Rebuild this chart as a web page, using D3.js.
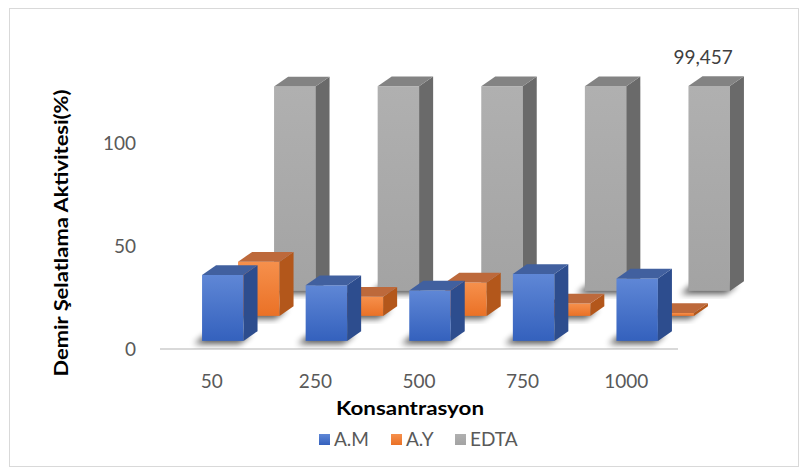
<!DOCTYPE html>
<html>
<head>
<meta charset="utf-8">
<script src="https://cdn.jsdelivr.net/npm/d3@7"></script>
<style>
  body { margin: 0; background: #fff; }
  svg { display: block; }
</style>
</head>
<body>
<script>
//chart data
var categories = ["50", "250", "500", "750", "1000"];
var seriesNames = ["A.M", "A.Y", "EDTA"];
var amValues = [32, 27, 24.5, 32.5, 30.3];
var ayValues = [26.3, 9.3, 16.2, 6, 1.4];
var edtaValues = [99.2, 99.3, 99.3, 99.35, 99.457];
var yTicks = [0, 50, 100];

var w = 807, h = 475;

//oblique 3d: one depth unit moves this much on screen
var DX = 36, DY = -25;

var svg = d3.select("body").append("svg")
    .attr("width", w)
    .attr("height", h);

//outer frame
svg.append("rect")
    .attr("x", 9.5).attr("y", 8.5)
    .attr("width", 789).attr("height", 458)
    .style("fill", "#fff")
    .style("stroke", "#d9d9d9");

var x = d3.scaleBand()
    .domain(categories)
    .range([160, 678])
    .paddingInner(0.6)
    .paddingOuter(0.3);

var y = d3.scaleLinear()
    .domain([0, 100])
    .range([348.5, 142.5]);

//depth position of each series row
var z = d3.scaleBand()
    .domain(seriesNames)
    .range([0, 3])
    .paddingInner(0.61)
    .paddingOuter(0.305);

var colors = {
    "A.M":  { light: "#5f87d6", dark: "#3461bd", side: "#2d4d8e", top: "#41609f" },
    "A.Y":  { light: "#f6904c", dark: "#ea7126", side: "#b3571b", top: "#bd693b" },
    "EDTA": { light: "#b0b0b0", dark: "#a3a3a3", side: "#6a6a6a", top: "#838383" }
};

var defs = svg.append("defs");
seriesNames.forEach(function(s, i){
    var g = defs.append("linearGradient")
        .attr("id", "grad" + i)
        .attr("x1", 0).attr("y1", 0).attr("x2", 0).attr("y2", 1);
    g.append("stop").attr("offset", "0%").attr("stop-color", colors[s].light);
    g.append("stop").attr("offset", "100%").attr("stop-color", colors[s].dark);
});
defs.append("filter").attr("id", "blur")
    .attr("x", "-50%").attr("y", "-50%").attr("width", "200%").attr("height", "200%")
    .append("feGaussianBlur").attr("stdDeviation", 3);

//floor front edge
svg.append("line")
    .attr("x1", x.range()[0]).attr("x2", x.range()[1])
    .attr("y1", y(0) + 0.5).attr("y2", y(0) + 0.5)
    .style("stroke", "#d9d9d9")
    .style("stroke-width", 2);

//table of bars, back row first
var table = [];
[edtaValues, ayValues, amValues].forEach(function(vals, k){
    var s = seriesNames[2 - k];
    vals.forEach(function(v, i){
        table.push({ series: s, si: 2 - k, cat: categories[i], value: v });
    });
});

function pt(px, py){ return px + "," + py; }

var bw = x.bandwidth();
var depth = z.bandwidth();

table.forEach(function(d){
    var z0 = z(d.series);
    var fx = x(d.cat) + z0 * DX;          //front face left
    var fb = y(0) + z0 * DY;              //front face bottom
    var ft = y(d.value) + z0 * DY;        //front face top
    var ox = depth * DX, oy = depth * DY;
    var g = svg.append("g").attr("class", "bar");

    //soft shadow on the floor
    g.append("polygon")
        .attr("points", [pt(fx - 8, fb + 3), pt(fx + bw - 4, fb + 3),
                         pt(fx + bw + ox - 6, fb + oy + 3), pt(fx + ox - 10, fb + oy + 3)].join(" "))
        .style("fill", "#000")
        .style("opacity", 0.65)
        .attr("filter", "url(#blur)");

    //front face
    g.append("rect")
        .attr("x", fx).attr("y", ft)
        .attr("width", bw).attr("height", Math.max(fb - ft, 0.5))
        .style("fill", "url(#grad" + d.si + ")");
    //side face
    g.append("polygon")
        .attr("points", [pt(fx + bw, ft), pt(fx + bw + ox, ft + oy),
                         pt(fx + bw + ox, fb + oy), pt(fx + bw, fb)].join(" "))
        .style("fill", colors[d.series].side);
    //top face
    g.append("polygon")
        .attr("points", [pt(fx, ft), pt(fx + bw, ft),
                         pt(fx + bw + ox, ft + oy), pt(fx + ox, ft + oy)].join(" "))
        .style("fill", colors[d.series].top);
});

//data label on last EDTA bar
var lastZ = z("EDTA");
svg.append("text")
    .attr("x", x(categories[4]) + lastZ * DX + bw / 2 - 6)
    .attr("y", y(edtaValues[4]) + lastZ * DY - 22)
    .attr("text-anchor", "middle")
    .style("font-family", "Lato, 'Open Sans', sans-serif")
    .style("font-size", "19px")
    .style("fill", "#404040")
    .text("99,457");

//value axis labels
svg.selectAll(".ytick")
    .data(yTicks)
    .enter()
    .append("text")
    .attr("class", "ytick")
    .attr("x", 136)
    .attr("y", function(d){ return y(d) + 7; })
    .attr("text-anchor", "end")
    .style("font-family", "Lato, 'Open Sans', sans-serif")
    .style("font-size", "19px")
    .style("fill", "#595959")
    .text(function(d){ return d; });

//category labels
svg.selectAll(".xtick")
    .data(categories)
    .enter()
    .append("text")
    .attr("class", "xtick")
    .attr("x", function(d){ return x(d) + bw / 2; })
    .attr("y", 388)
    .attr("text-anchor", "middle")
    .style("font-family", "Lato, 'Open Sans', sans-serif")
    .style("font-size", "19px")
    .style("fill", "#595959")
    .text(function(d){ return d; });

//axis titles
svg.append("text")
    .attr("x", 410)
    .attr("y", 415)
    .attr("text-anchor", "middle")
    .attr("textLength", 148)
    .attr("lengthAdjust", "spacingAndGlyphs")
    .style("font-family", "Lato, 'Open Sans', sans-serif")
    .style("font-weight", "bold")
    .style("font-size", "19px")
    .style("fill", "#000")
    .text("Konsantrasyon");

svg.append("text")
    .attr("transform", "translate(68,233) rotate(-90)")
    .attr("text-anchor", "middle")
    .attr("textLength", 287)
    .attr("lengthAdjust", "spacingAndGlyphs")
    .style("font-family", "Lato, 'Open Sans', sans-serif")
    .style("font-weight", "bold")
    .style("font-size", "18px")
    .style("fill", "#000")
    .text("Demir Şelatlama Aktivitesi(%)");

//legend
var legendX = [319, 391, 455];
var legend = svg.selectAll(".legend")
    .data(seriesNames)
    .enter()
    .append("g")
    .attr("class", "legend")
    .attr("transform", function(d, i){ return "translate(" + legendX[i] + ",434)"; });

legend.append("rect")
    .attr("width", 11).attr("height", 11)
    .style("fill", function(d, i){ return "url(#grad" + i + ")"; });

legend.append("text")
    .attr("x", 15)
    .attr("y", 12)
    .style("font-family", "Lato, 'Open Sans', sans-serif")
    .style("font-size", "19px")
    .style("fill", "#595959")
    .text(function(d){ return d; });
</script>
</body>
</html>
